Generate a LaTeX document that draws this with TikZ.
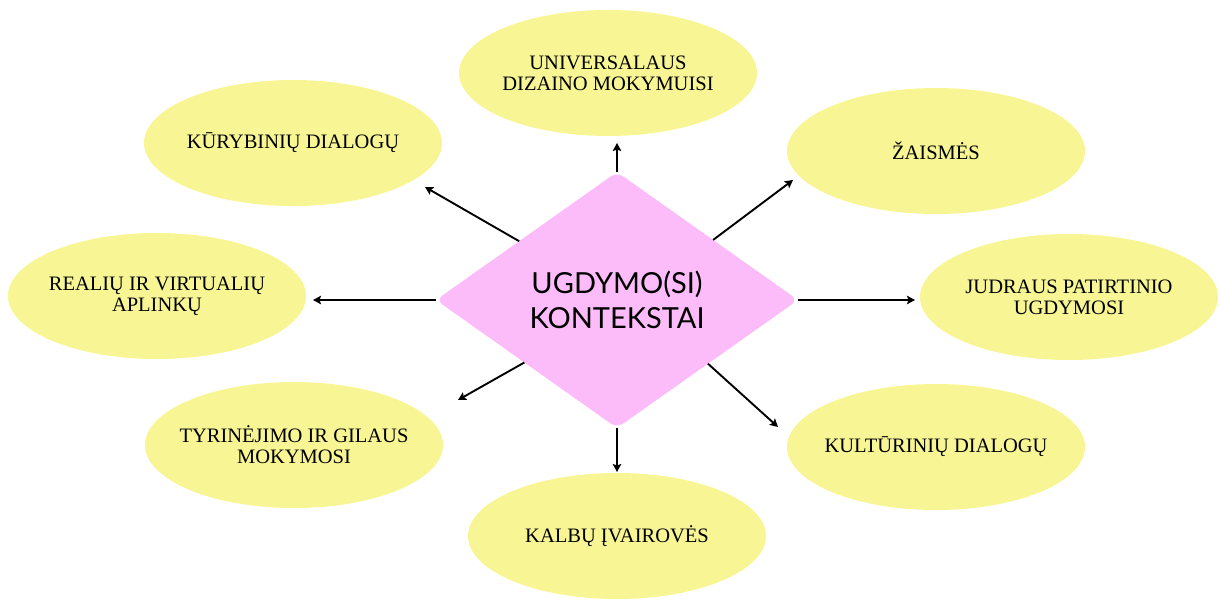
\documentclass[tikz,border=0pt]{standalone}
\usepackage{fontspec}
\setmainfont{Liberation Serif}
\newfontfamily\hubfont{Lato}
\usetikzlibrary{shapes.geometric,arrows.meta}
\definecolor{ctxpink}{RGB}{252,188,249}
\definecolor{ctxyellow}{RGB}{248,246,148}

\begin{document}
\begin{tikzpicture}[x=1pt, y=-1pt,
    ctx/.style={ellipse, fill=ctxyellow, minimum width=298pt, minimum height=126pt,
      inner xsep=-12pt, inner ysep=0pt, align=center, font=\fontsize{20.5}{21}\selectfont},
    hub/.style={diamond, fill=ctxpink, rounded corners=8pt, aspect=1.41,
      minimum width=362pt, minimum height=256pt, inner sep=0pt, outer sep=0pt,
      align=center, font=\hubfont\fontsize{29}{35}\selectfont},
    link/.style={-{Stealth[length=8pt, width=8.5pt, inset=1.5pt]}, line width=1.9pt}]
    \useasboundingbox (0, 0) rectangle (1221, 600);
    % centre
    \node [hub] (hub) at (617, 300) {UGDYMO(SI)\\KONTEKSTAI};
    % contexts
    \node [ctx] (udl)   at (608, 73)  {UNIVERSALAUS\\DIZAINO MOKYMUISI};
    \node [ctx] (kur)   at (293, 143) {KŪRYBINIŲ DIALOGŲ};
    \node [ctx] (zais)  at (936, 151) {ŽAISMĖS};
    \node [ctx] (real)  at (157, 296) {REALIŲ IR VIRTUALIŲ\\APLINKŲ};
    \node [ctx] (judr)  at (1069, 297) {JUDRAUS PATIRTINIO\\UGDYMOSI};
    \node [ctx] (tyr)   at (294, 445) {TYRINĖJIMO IR GILAUS\\MOKYMOSI};
    \node [ctx] (kult)  at (936, 447) {KULTŪRINIŲ DIALOGŲ};
    \node [ctx] (kalb)  at (617, 536) {KALBŲ ĮVAIROVĖS};
    % arrow tips
    \coordinate (to-udl)  at (617, 143);
    \coordinate (to-kur)  at (425, 187);
    \coordinate (to-zais) at (793, 180);
    \coordinate (to-real) at (313, 300);
    \coordinate (to-judr) at (915, 300);
    \coordinate (to-tyr)  at (458, 400);
    \coordinate (to-kult) at (778, 427);
    \coordinate (to-kalb) at (617, 472);
    % arrows
    \draw [link] (hub.north) -- (to-udl);
    \draw [link] (hub.149)   -- (to-kur);
    \draw [link] (hub.32)    -- (to-zais);
    \draw [link] (hub.west)  -- (to-real);
    \draw [link] (hub.east)  -- (to-judr);
    \draw [link] (hub.214)   -- (to-tyr);
    \draw [link] (hub.325)   -- (to-kult);
    \draw [link] (hub.south) -- (to-kalb);
\end{tikzpicture}
\end{document}
